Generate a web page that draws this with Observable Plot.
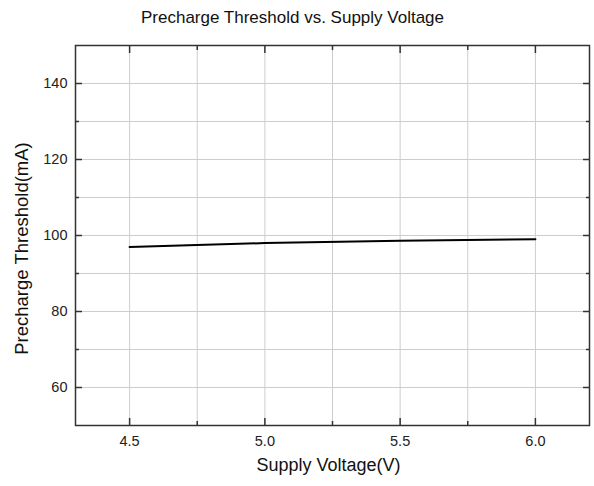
<!DOCTYPE html>
<html>
<head>
<meta charset="utf-8">
<script src="https://cdn.jsdelivr.net/npm/d3@7"></script>
<script src="https://cdn.jsdelivr.net/npm/@observablehq/plot@0.6"></script>
<style>
  body { margin: 0; background: #fff; font-family: "Liberation Sans", Arial, sans-serif; }
  #wrap { position: relative; width: 594px; height: 486px; }
  #title { position: absolute; left: 0; top: 9px; width: 585px; text-align: center;
           font-size: 17px; line-height: 17px; color: #111; }
</style>
</head>
<body>
<div id="wrap">
  <div id="title">Precharge Threshold vs. Supply Voltage</div>
  <div id="chart"></div>
</div>
<script>
const voltage = [4.5, 5.0, 5.5, 6.0];
const threshold = [97, 98, 98.6, 99];
const xMajorTicks = [4.5, 5.0, 5.5, 6.0];
const xMinorTicks = [4.75, 5.25, 5.75];
const yMajorTicks = [60, 80, 100, 120, 140];
const yMinorTicks = [70, 90, 110, 130];
const xLabel = "Supply Voltage(V)";
const yLabel = "Precharge Threshold(mA)";

const data = voltage.map((v, i) => ({v, t: threshold[i]}));
const xAll = [...xMajorTicks, ...xMinorTicks];
const yAll = [...yMajorTicks, ...yMinorTicks];
const ink = "#333";

const chart = Plot.plot({
  width: 594,
  height: 486,
  marginLeft: 75,
  marginRight: 5,
  marginTop: 45,
  marginBottom: 61,
  style: {fontFamily: "'Liberation Sans', Arial, sans-serif", fontSize: "14.5px", color: "#222"},
  x: {domain: [4.3, 6.2]},
  y: {domain: [50, 150]},
  marks: [
    Plot.gridX(xAll, {stroke: "#cdcdcd", strokeOpacity: 1, strokeWidth: 1}),
    Plot.gridY(yAll, {stroke: "#cdcdcd", strokeOpacity: 1, strokeWidth: 1}),
    Plot.line(data, {x: "v", y: "t", stroke: "#000", strokeWidth: 2}),
    Plot.axisX({ticks: xMajorTicks, anchor: "bottom", tickSize: -7, tickPadding: 17, tickFormat: d => d.toFixed(1), stroke: ink, strokeWidth: 1.5, fontSize: 14.5, label: null}),
    Plot.axisX({ticks: xMinorTicks, anchor: "bottom", tickSize: -4, tickFormat: () => "", stroke: ink, strokeWidth: 1.5, label: null}),
    Plot.axisX({ticks: xMajorTicks, anchor: "top", tickSize: -7, tickFormat: () => "", stroke: ink, strokeWidth: 1.5, label: null}),
    Plot.axisX({ticks: xMinorTicks, anchor: "top", tickSize: -4, tickFormat: () => "", stroke: ink, strokeWidth: 1.5, label: null}),
    Plot.axisY({ticks: yMajorTicks, anchor: "left", tickSize: -7, tickPadding: 15, stroke: ink, strokeWidth: 1.5, fontSize: 14.5, label: null}),
    Plot.axisY({ticks: yMinorTicks, anchor: "left", tickSize: -4, tickFormat: () => "", stroke: ink, strokeWidth: 1.5, label: null}),
    Plot.axisY({ticks: yMajorTicks, anchor: "right", tickSize: -7, tickFormat: () => "", stroke: ink, strokeWidth: 1.5, label: null}),
    Plot.axisY({ticks: yMinorTicks, anchor: "right", tickSize: -4, tickFormat: () => "", stroke: ink, strokeWidth: 1.5, label: null}),
    Plot.frame({stroke: ink, strokeWidth: 1.5}),
    Plot.text([xLabel], {frameAnchor: "bottom", dx: -4, dy: 45, fontSize: 18, fill: "#111"}),
    Plot.text([yLabel], {frameAnchor: "left", textAnchor: "middle", dx: -53, dy: 13, rotate: -90, fontSize: 18.5, fill: "#111"})
  ]
});
document.getElementById("chart").appendChild(chart);
</script>
</body>
</html>
